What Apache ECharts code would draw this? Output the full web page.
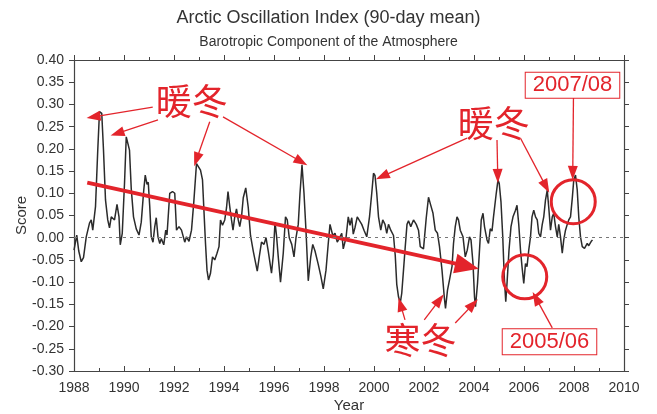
<!DOCTYPE html>
<html>
<head>
<meta charset="utf-8">
<script src="https://cdn.jsdelivr.net/npm/echarts/dist/echarts.min.js"></script>
<style>
  body { margin: 0; background: #fff; }
  #main { width: 657px; height: 414px; }
</style>
</head>
<body>
<div id="main"></div>
<script>
// AO index, 90-day running mean
const years = [1988.00,1988.11,1988.19,1988.29,1988.38,1988.49,1988.62,1988.69,1988.75,1988.86,1988.95,1989.02,1989.11,1989.18,1989.26,1989.35,1989.42,1989.49,1989.62,1989.72,1989.80,1989.85,1989.93,1990.02,1990.09,1990.16,1990.22,1990.29,1990.38,1990.49,1990.60,1990.69,1990.79,1990.85,1990.92,1990.97,1991.03,1991.09,1991.16,1991.23,1991.29,1991.36,1991.43,1991.49,1991.59,1991.67,1991.72,1991.83,1991.94,1992.03,1992.10,1992.20,1992.30,1992.43,1992.50,1992.60,1992.70,1992.79,1992.90,1992.96,1993.06,1993.14,1993.19,1993.26,1993.32,1993.38,1993.46,1993.54,1993.63,1993.72,1993.80,1993.86,1993.94,1994.03,1994.10,1994.16,1994.23,1994.30,1994.36,1994.43,1994.50,1994.57,1994.63,1994.70,1994.77,1994.87,1994.97,1995.06,1995.17,1995.33,1995.41,1995.50,1995.60,1995.68,1995.77,1995.90,1995.97,1996.04,1996.10,1996.17,1996.26,1996.37,1996.46,1996.53,1996.61,1996.71,1996.80,1996.88,1996.97,1997.04,1997.12,1997.20,1997.28,1997.37,1997.47,1997.55,1997.64,1997.77,1997.88,1997.97,1998.08,1998.17,1998.24,1998.35,1998.44,1998.53,1998.64,1998.71,1998.77,1998.88,1998.97,1999.04,1999.11,1999.17,1999.24,1999.33,1999.41,1999.51,1999.60,1999.71,1999.82,1999.91,1999.98,2000.04,2000.11,2000.18,2000.27,2000.35,2000.44,2000.51,2000.58,2000.67,2000.78,2000.85,2000.91,2000.98,2001.05,2001.11,2001.18,2001.25,2001.32,2001.38,2001.47,2001.58,2001.69,2001.78,2001.85,2001.98,2002.09,2002.18,2002.26,2002.36,2002.45,2002.54,2002.62,2002.72,2002.81,2002.86,2002.94,2003.02,2003.12,2003.18,2003.25,2003.32,2003.38,2003.45,2003.56,2003.65,2003.73,2003.82,2003.88,2003.96,2004.02,2004.06,2004.14,2004.22,2004.29,2004.36,2004.42,2004.52,2004.58,2004.65,2004.72,2004.78,2004.89,2004.96,2005.01,2005.08,2005.15,2005.21,2005.27,2005.32,2005.40,2005.48,2005.56,2005.66,2005.72,2005.79,2005.86,2005.92,2005.99,2006.06,2006.12,2006.19,2006.26,2006.32,2006.39,2006.46,2006.53,2006.59,2006.66,2006.73,2006.79,2006.86,2006.93,2006.99,2007.06,2007.13,2007.19,2007.26,2007.33,2007.39,2007.46,2007.53,2007.59,2007.66,2007.73,2007.79,2007.86,2007.93,2007.99,2008.06,2008.13,2008.19,2008.26,2008.33,2008.42,2008.53,2008.59,2008.69,2008.74];
const scores = [-0.028,0.006,-0.03,-0.054,-0.045,0.002,0.033,0.04,0.017,0.07,0.197,0.284,0.28,0.197,0.085,0.04,0.022,0.047,0.04,0.075,0.047,-0.016,0.01,0.122,0.227,0.23,0.197,0.11,0.047,0.02,0.006,0.035,0.107,0.141,0.12,0.125,0.07,0.002,-0.01,0.025,0.045,0.002,-0.013,-0.002,-0.016,0.017,0.006,0.1,0.104,0.1,0.017,0.025,0.017,-0.01,0.002,-0.008,0.017,0.079,0.167,0.17,0.152,0.13,0.07,-0.013,-0.073,-0.095,-0.08,-0.043,-0.05,-0.035,-0.02,0.04,0.028,0.04,0.067,0.104,0.07,0.04,0.017,0.047,0.065,0.04,0.025,0.047,0.09,0.112,0.068,0.005,-0.03,-0.075,-0.043,-0.01,-0.015,0,-0.03,-0.08,-0.04,0.035,0.005,-0.043,-0.1,-0.035,0.047,0.04,0,-0.015,-0.043,0,0.03,0.1,0.164,0.1,0.015,-0.097,-0.043,-0.015,-0.03,-0.06,-0.088,-0.115,-0.073,-0.013,0.03,0.005,0.01,-0.01,0.002,0.01,-0.025,0,0.047,0.028,0.045,0.008,0.023,0.047,0.05,0.03,0.017,0.002,0.047,0.1,0.145,0.14,0.1,0.047,0.017,0.04,0.03,0.01,0.03,0.017,0.005,-0.04,-0.105,-0.133,-0.147,-0.125,-0.073,-0.02,0.03,0.038,0.025,0.04,0.03,0.017,-0.02,-0.025,0.045,0.091,0.075,0.055,0.017,0.01,-0.02,-0.073,-0.133,-0.159,-0.118,-0.095,-0.065,-0.013,0.025,0.047,0.04,0.017,0.002,-0.043,-0.028,0.002,-0.005,-0.058,-0.133,-0.155,-0.103,-0.028,0.04,0.055,0.025,-0.005,-0.013,0.02,0.015,0.047,0.1,0.13,0.122,0.08,0.002,-0.088,-0.144,-0.103,-0.028,0.025,0.047,0.062,0.073,0.03,-0.028,-0.065,-0.103,-0.058,-0.065,-0.028,0.002,0.047,0.062,0.047,0.04,0.01,0.002,0.03,0.047,0.085,0.107,0.068,0.017,0.047,0.055,0.025,0.002,0.03,0.002,-0.035,-0.005,0.017,0.03,0.04,0.047,0.088,0.13,0.141,0.107,0.047,0.002,-0.02,-0.024,-0.013,-0.018,-0.008,-0.005];

// annotations, in data units [year, score]
const warmText = [[1992.71, 0.308], [2004.79, 0.257]];
const coldText = [2001.86, -0.231];
// thin arrows: [fromYear, fromScore, toYear, toScore]
const thinArrows = [
  [1991.15, 0.294, 1988.78, 0.272],
  [1991.36, 0.265, 1989.73, 0.235],
  [1993.43, 0.261, 1992.90, 0.176],
  [1993.96, 0.272, 1997.09, 0.171],
  [2003.72, 0.224, 2000.33, 0.138],
  [2004.92, 0.220, 2004.95, 0.139],
  [2005.86, 0.224, 2006.88, 0.115],
  [2007.98, 0.324, 2007.95, 0.146],
  [2007.13, -0.203, 2006.48, -0.136],
  [2001.24, -0.185, 2001.06, -0.150],
  [2002.01, -0.185, 2002.62, -0.140],
  [2003.25, -0.192, 2003.96, -0.150]
];
const trendArrow = [1988.53, 0.124, 2003.72, -0.064];
const circles = [[2007.97, 0.081], [2006.03, -0.088]];
const boxes = [['2007/08', 2007.94, 0.343], ['2005/06', 2007.02, -0.234]];

const red = '#e3242b';
const axisColor = '#444';
const font = 'Liberation Sans';

const chart = echarts.init(document.getElementById('main'));

let lines = thinArrows.map(a => [
  { coord: [a[0], a[1]], symbol: 'none', lineStyle: { color: red, width: 1.3, type: 'solid' } },
  { coord: [a[2], a[3]], symbol: 'triangle', symbolSize: [10, 14], lineStyle: { color: red, width: 1.3, type: 'solid' } }
]);
lines.push([
  { coord: [trendArrow[0], trendArrow[1]], symbol: 'none', lineStyle: { color: red, width: 4, type: 'solid' } },
  { coord: [trendArrow[2], trendArrow[3]], symbol: 'triangle', symbolSize: [20, 24], lineStyle: { color: red, width: 4, type: 'solid' } }
]);
lines.push({ yAxis: 0, lineStyle: { color: '#777', width: 1, type: [3, 4] } });

let points = [];
warmText.forEach(p => points.push({
  coord: p, symbol: 'circle', symbolSize: 1, itemStyle: { color: 'rgba(0,0,0,0)' },
  label: { show: true, position: 'inside', formatter: '暖冬', color: red, fontSize: 36, fontFamily: 'Noto Sans CJK SC' }
}));
points.push({
  coord: coldText, symbol: 'circle', symbolSize: 1, itemStyle: { color: 'rgba(0,0,0,0)' },
  label: { show: true, position: 'inside', formatter: '寒冬', color: red, fontSize: 36, fontFamily: 'Noto Sans CJK SC' }
});
circles.forEach(p => points.push({
  coord: p, symbol: 'circle', symbolSize: 44,
  itemStyle: { color: 'rgba(0,0,0,0)', borderColor: red, borderWidth: 3 },
  label: { show: false }
}));
boxes.forEach(b => points.push({
  coord: [b[1], b[2]], symbol: 'circle', symbolSize: 1, itemStyle: { color: 'rgba(0,0,0,0)' },
  label: {
    show: true, position: 'inside', formatter: b[0], color: red, fontSize: 22, fontFamily: font,
    backgroundColor: '#fff', borderColor: red, borderWidth: 1, padding: [2, 7, 1, 7]
  }
}));

const yLabel = v => v.toFixed(2);
const xLabel = v => String(v);

chart.setOption({
  animation: false,
  backgroundColor: '#fff',
  graphic: [
    { type: 'text', left: 'center', top: 9, style: { text: 'Arctic Oscillation Index (90-day mean)', fill: '#333', font: '18px "Liberation Sans"' } },
    { type: 'text', left: 'center', top: 35, style: { text: 'Barotropic Component of the Atmosphere', fill: '#333', font: '14px "Liberation Sans"' } }
  ],
  grid: { left: 74, right: 33, top: 60, bottom: 43, outerBoundsMode: 'none' },
  xAxis: [
    {
      type: 'value', min: 1988, max: 2010, interval: 2,
      name: 'Year', nameLocation: 'middle', nameGap: 27, nameMoveOverlap: false,
      nameTextStyle: { color: '#333', fontSize: 15, fontFamily: font },
      axisLine: { onZero: false, lineStyle: { color: axisColor, width: 1.2 } },
      axisTick: { inside: true, length: 5, lineStyle: { color: axisColor } },
      minorTick: { show: true, splitNumber: 2, length: 3, lineStyle: { color: axisColor } },
      axisLabel: { color: '#333', fontSize: 14, fontFamily: font, margin: 10, formatter: xLabel },
      splitLine: { show: false }
    },
    {
      type: 'value', min: 1988, max: 2010, interval: 2, position: 'top',
      axisLine: { onZero: false, lineStyle: { color: axisColor, width: 1.2 } },
      axisTick: { length: 5, lineStyle: { color: axisColor } },
      minorTick: { show: true, splitNumber: 2, length: 3, lineStyle: { color: axisColor } },
      axisLabel: { show: false },
      splitLine: { show: false }
    }
  ],
  yAxis: [
    {
      type: 'value', min: -0.3, max: 0.4, interval: 0.05,
      name: 'Score', nameLocation: 'middle', nameGap: 45, nameMoveOverlap: false,
      nameTextStyle: { color: '#333', fontSize: 15, fontFamily: font },
      axisLine: { show: true, onZero: false, lineStyle: { color: axisColor, width: 1.2 } },
      axisTick: { show: true, length: 5, lineStyle: { color: axisColor } },
      axisLabel: { color: '#333', fontSize: 14, fontFamily: font, margin: 10, formatter: yLabel },
      splitLine: { show: false }
    },
    {
      type: 'value', min: -0.3, max: 0.4, interval: 0.05, position: 'right',
      axisLine: { show: true, onZero: false, lineStyle: { color: axisColor, width: 1.2 } },
      axisTick: { show: true, length: 5, lineStyle: { color: axisColor } },
      axisLabel: { show: false },
      splitLine: { show: false }
    }
  ],
  series: [
    {
      name: 'AO', type: 'line',
      data: years.map((y, i) => [y, scores[i]]),
      showSymbol: false,
      lineStyle: { color: '#2b2b2b', width: 1.5 },
      z: 3,
      markLine: { silent: true, symbol: ['none', 'none'], label: { show: false }, data: lines, z: 4 },
      markPoint: { silent: true, data: points, z: 5 }
    }
  ]
});
</script>
</body>
</html>
